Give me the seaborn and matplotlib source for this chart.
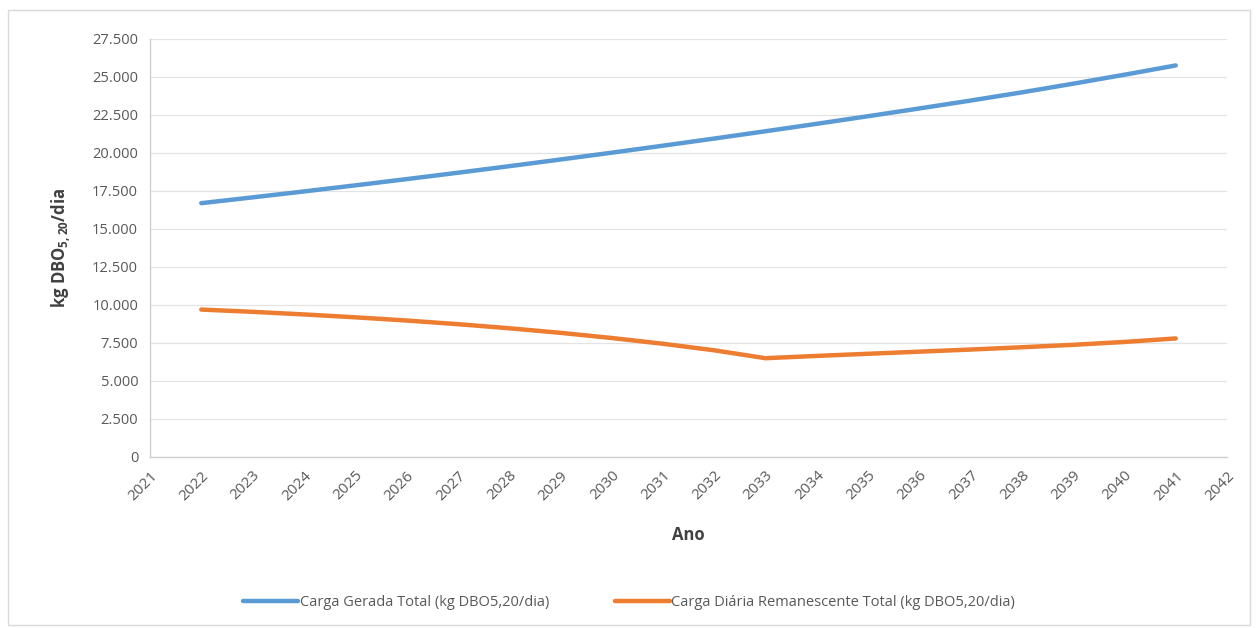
import matplotlib
matplotlib.use("Agg")
import matplotlib.pyplot as plt
from matplotlib.patches import Rectangle
from matplotlib.ticker import FuncFormatter, MultipleLocator
import seaborn as sns
import pandas as pd

sns.set_theme(style="white", context="paper")
plt.rcParams["font.family"] = ["Open Sans", "DejaVu Sans"]

# data
anos = list(range(2022, 2042))
carga_gerada = [16700, 17080, 17470, 17870, 18280, 18700, 19130, 19570, 20020, 20480,
                20950, 21430, 21920, 22420, 22930, 23450, 23990, 24560, 25150, 25760]
carga_remanescente = [9700, 9550, 9380, 9190, 8980, 8740, 8470, 8170, 7830, 7450,
                      7020, 6500, 6650, 6790, 6930, 7070, 7220, 7380, 7570, 7800]
serie_gerada = "Carga Gerada Total (kg DBO5,20/dia)"
serie_remanescente = "Carga Diária Remanescente Total (kg DBO5,20/dia)"

df = pd.DataFrame({
    "Ano": anos * 2,
    "Carga": carga_gerada + carga_remanescente,
    "Serie": [serie_gerada] * len(anos) + [serie_remanescente] * len(anos),
})

fig = plt.figure(figsize=(12.58, 6.28), dpi=100)
ax = fig.add_axes([0.1192, 0.2723, 0.8562, 0.6656])

sns.lineplot(
    data=df, x="Ano", y="Carga", hue="Serie",
    palette=["#5B9BD5", "#ED7D31"], linewidth=3.2, ax=ax, legend=False,
)

gray = "#595959"
ax.set_xlim(2021, 2042)
ax.set_ylim(0, 27500)
ax.xaxis.set_major_locator(MultipleLocator(1))
ax.yaxis.set_major_locator(MultipleLocator(2500))
ax.yaxis.set_major_formatter(FuncFormatter(lambda v, p: f"{int(v):,}".replace(",", ".")))
ax.grid(axis="y", color="#e3e3e3", linewidth=0.9)
ax.set_axisbelow(True)
for side in ["top", "right"]:
    ax.spines[side].set_visible(False)
for side in ["left", "bottom"]:
    ax.spines[side].set_color("#d0d0d0")
ax.tick_params(axis="both", colors="#d0d0d0", labelcolor=gray, labelsize=10.5,
               length=5, width=0.9, direction="out")
ax.tick_params(axis="x", pad=3, labelsize=11)
for lab in ax.get_xticklabels():
    lab.set_rotation(45)
    lab.set_ha("right")
    lab.set_rotation_mode("anchor")

ax.set_xlabel("Ano", fontsize=12, fontweight="bold", color="#404040", labelpad=16)
ax.set_ylabel(r"kg DBO$_{\mathregular{5,20}}$/dia", fontsize=12, fontweight="bold",
              color="#404040", labelpad=14)

handles = [plt.Line2D([], [], color="#5B9BD5", linewidth=3.2),
           plt.Line2D([], [], color="#ED7D31", linewidth=3.2)]
fig.legend(handles, [serie_gerada, serie_remanescente], loc="center",
           bbox_to_anchor=(0.5, 0.041), ncol=2, frameon=False, fontsize=10.5,
           labelcolor=gray, handlelength=3.8, handletextpad=0.1, columnspacing=4.5)

fig.patches.append(Rectangle((0.006, 0.004), 0.988, 0.98, transform=fig.transFigure,
                             fill=False, edgecolor="#d9d9d9", linewidth=1))

fig.savefig("out.png", dpi=100)
